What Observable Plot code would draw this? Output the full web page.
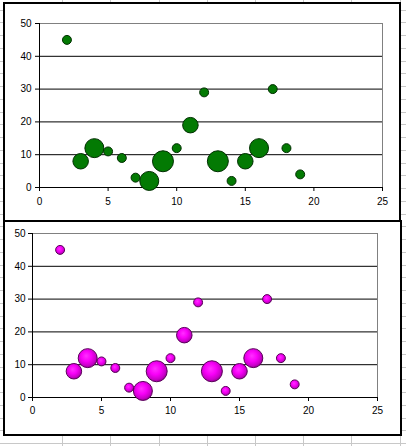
<!DOCTYPE html>
<html>
<head>
<meta charset="utf-8">
<script src="https://cdn.jsdelivr.net/npm/d3@7"></script>
<script src="https://cdn.jsdelivr.net/npm/@observablehq/plot@0.6"></script>
<style>
  html, body { margin: 0; padding: 0; }
  body {
    width: 406px; height: 446px; position: relative; overflow: hidden;
    background-color: #fff;
    background-image:
      repeating-linear-gradient(to right, transparent 0, transparent 47.2px, #c8c8c8 47.2px, #c8c8c8 48.2px),
      repeating-linear-gradient(to bottom, transparent 0, transparent 11.75px, #c8c8c8 11.75px, #c8c8c8 12.75px);
    background-position: 15px 0, 0 -2px;
    font-family: "Liberation Sans", Arial, sans-serif;
  }
  .box { position: absolute; box-sizing: border-box; border: 2px solid #000; background: #fff; }
  .chart { position: absolute; }
  .chart svg { overflow: visible; }
</style>
</head>
<body>
<div class="box" style="left:3px; top:2px; width:398px; height:220px;"></div>
<div class="box" style="left:3px; top:220px; width:399px; height:216px;"></div>
<div id="top" class="chart" style="left:5px; top:4px;"></div>
<div id="bottom" class="chart" style="left:5px; top:222px;"></div>
<script>
const xValues = [2, 3, 4, 5, 6, 7, 8, 9, 10, 11, 12, 13, 14, 15, 16, 17, 18, 19];
const yValues = [45, 8, 12, 11, 9, 3, 2, 8, 12, 19, 29, 8, 2, 8, 12, 30, 12, 4];
const bubbleSizes = [1, 3, 4.5, 1, 1, 1, 4.5, 5.5, 1, 3, 1, 5.5, 1, 3, 4.5, 1, 1, 1];
const xTicks = [0, 5, 10, 15, 20, 25];
const yTicks = [0, 10, 20, 30, 40, 50];
const gridLines = [10, 20, 30, 40];

const data = xValues.map((x, i) => ({x, y: yValues[i], size: bubbleSizes[i]}));

function makeChart(opts) {
  const svg = Plot.plot({
    width: opts.width,
    height: opts.height,
    marginLeft: opts.ml,
    marginRight: opts.mr,
    marginTop: opts.mt,
    marginBottom: opts.mb,
    style: {fontFamily: '"Liberation Sans", Arial, sans-serif', fontSize: "10px", color: "#000", background: "transparent", overflow: "visible"},
    x: {domain: [0, 25]},
    y: {domain: [0, 50]},
    r: {domain: [0, 5.5], range: [0, 10.5]},
    marks: [
      Plot.ruleY([50], {stroke: "#808080", strokeWidth: 1}),
      Plot.ruleX([25], {stroke: "#808080", strokeWidth: 1}),
      Plot.ruleY(gridLines, {stroke: "#000", strokeWidth: 1}),
      Plot.ruleY([0], {stroke: "#000", strokeWidth: 1}),
      Plot.ruleX([0], {stroke: "#000", strokeWidth: 1}),
      Plot.axisX({ticks: xTicks, tickSize: 4, tickPadding: opts.xpad, label: null, stroke: "#000", strokeOpacity: 1}),
      Plot.axisY({ticks: yTicks, tickSize: 4, tickPadding: opts.ypad, label: null, stroke: "#000", strokeOpacity: 1}),
      Plot.dot(data, {x: "x", y: "y", r: "size", fill: opts.fill, stroke: opts.stroke, strokeWidth: 1})
    ]
  });
  return svg;
}

const topSvg = makeChart({width: 394, height: 216, ml: 34, mr: 17, mt: 19, mb: 33, xpad: 6, ypad: 4,
  fill: "#037a03", stroke: "#002e00"});
document.getElementById("top").appendChild(topSvg);

const botSvg = makeChart({width: 394, height: 212, ml: 27, mr: 22, mt: 11, mb: 37, xpad: 5, ypad: 3,
  fill: "url(#mgGrad)", stroke: "#5a005a"});
const defs = d3.select(botSvg).insert("defs", ":first-child");
const grad = defs.append("radialGradient").attr("id", "mgGrad")
  .attr("cx", "0.45").attr("cy", "0.42").attr("r", "0.6").attr("fx", "0.42").attr("fy", "0.38");
grad.append("stop").attr("offset", "0%").attr("stop-color", "#ff30ff");
grad.append("stop").attr("offset", "45%").attr("stop-color", "#f800f8");
grad.append("stop").attr("offset", "80%").attr("stop-color", "#c800c8");
grad.append("stop").attr("offset", "100%").attr("stop-color", "#8c008c");
document.getElementById("bottom").appendChild(botSvg);
</script>
</body>
</html>
